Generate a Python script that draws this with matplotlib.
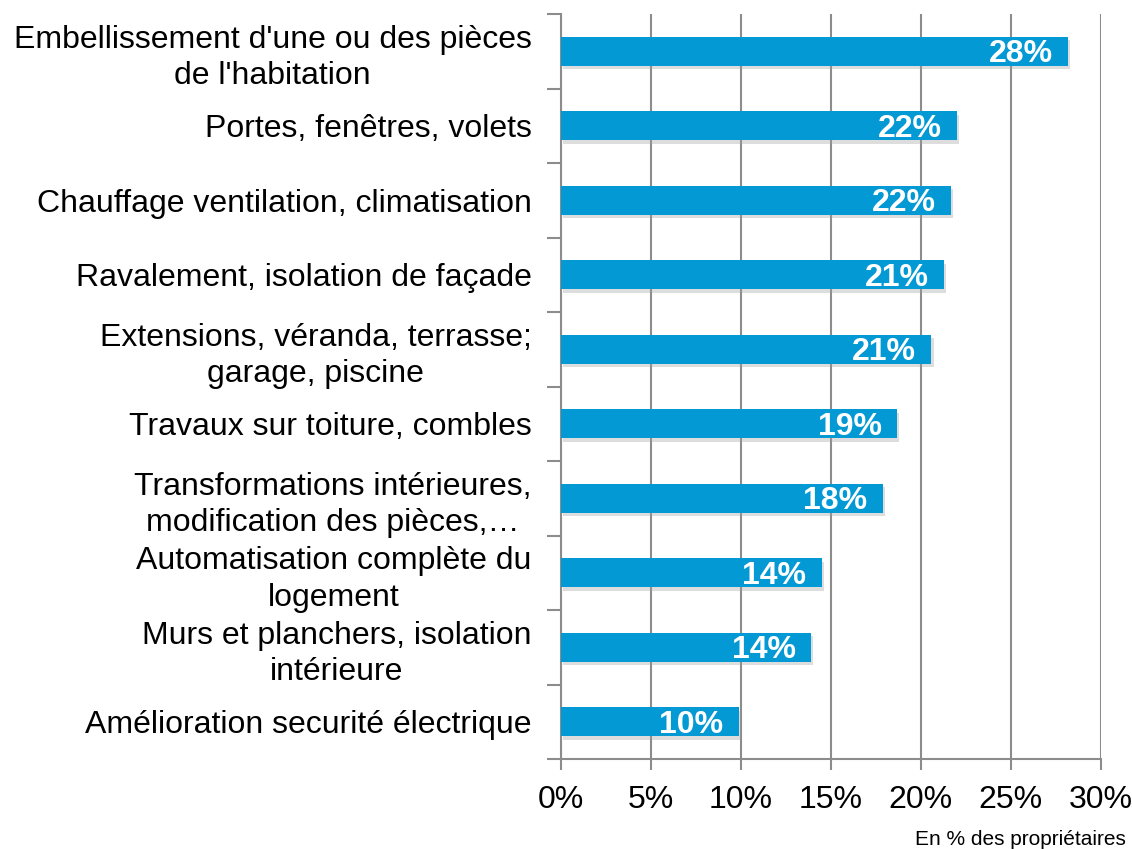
import numpy as np
import matplotlib
matplotlib.use('Agg')
import matplotlib.pyplot as plt
import matplotlib.patheffects as pe
from matplotlib.ticker import FixedLocator, PercentFormatter

plt.rcParams['font.family'] = ['Liberation Sans', 'DejaVu Sans']

# données
categories = ["Embellissement d'une ou des pièces\nde l'habitation",
              "Portes, fenêtres, volets",
              "Chauffage ventilation, climatisation",
              "Ravalement, isolation de façade",
              "Extensions, véranda, terrasse;\ngarage, piscine",
              "Travaux sur toiture, combles",
              "Transformations intérieures,\nmodification des pièces,…",
              "Automatisation complète du\nlogement",
              "Murs et planchers, isolation\nintérieure",
              "Amélioration securité électrique"]
values = [28.2, 22.0, 21.7, 21.3, 20.6, 18.7, 17.9, 14.5, 13.9, 9.9]
bar_labels = ['28%', '22%', '22%', '21%', '21%', '19%', '18%', '14%', '14%', '10%']
x_ticks = [0, 5, 10, 15, 20, 25, 30]

grid_col = '#8c8c8c'
bar_col = '#0399d4'

fig = plt.figure(figsize=(11.32, 8.49), dpi=100, facecolor='white')
ax = fig.add_axes([0.4953, 0.106, 0.4770, 0.8775])

y = np.arange(len(categories))
bars = ax.barh(y, values, height=0.39, color=bar_col, zorder=3)
for b in bars:
    b.set_path_effects([pe.SimplePatchShadow(offset=(1.5, -2.5), shadow_rgbFace='#a0a0a0', alpha=0.35),
                        pe.Normal()])

for yi, v, lab in zip(y, values, bar_labels):
    ax.annotate(lab, xy=(v, yi), xytext=(-11, -2), textcoords='offset points',
                ha='right', va='center', color='white', fontsize=23,
                fontweight='bold', zorder=4)

ax.set_xlim(0, 30)
ax.set_ylim(len(categories) - 0.5, -0.5)

ax.set_xticks(x_ticks)
ax.xaxis.set_major_formatter(PercentFormatter(decimals=0))
ax.tick_params(axis='x', labelsize=23, length=8, width=1.5, color=grid_col, pad=11)

ax.set_yticks(y)
ax.set_yticklabels(categories, fontsize=23, ha='right', multialignment='center',
                   linespacing=1.28)
ax.tick_params(axis='y', which='major', length=0, pad=21)
ax.yaxis.set_minor_locator(FixedLocator(np.arange(-0.5, len(categories), 1)))
ax.tick_params(axis='y', which='minor', length=10, width=1.5, color=grid_col)

ax.grid(axis='x', color=grid_col, linewidth=1.5, zorder=0)
ax.set_axisbelow(True)
for s in ['top', 'right']:
    ax.spines[s].set_visible(False)
for s in ['left', 'bottom']:
    ax.spines[s].set_color(grid_col)
    ax.spines[s].set_linewidth(1.5)

fig.text(0.995, 0.0, 'En % des propriétaires', ha='right', va='bottom', fontsize=15)

fig.savefig('out.png', dpi=100, facecolor='white')
